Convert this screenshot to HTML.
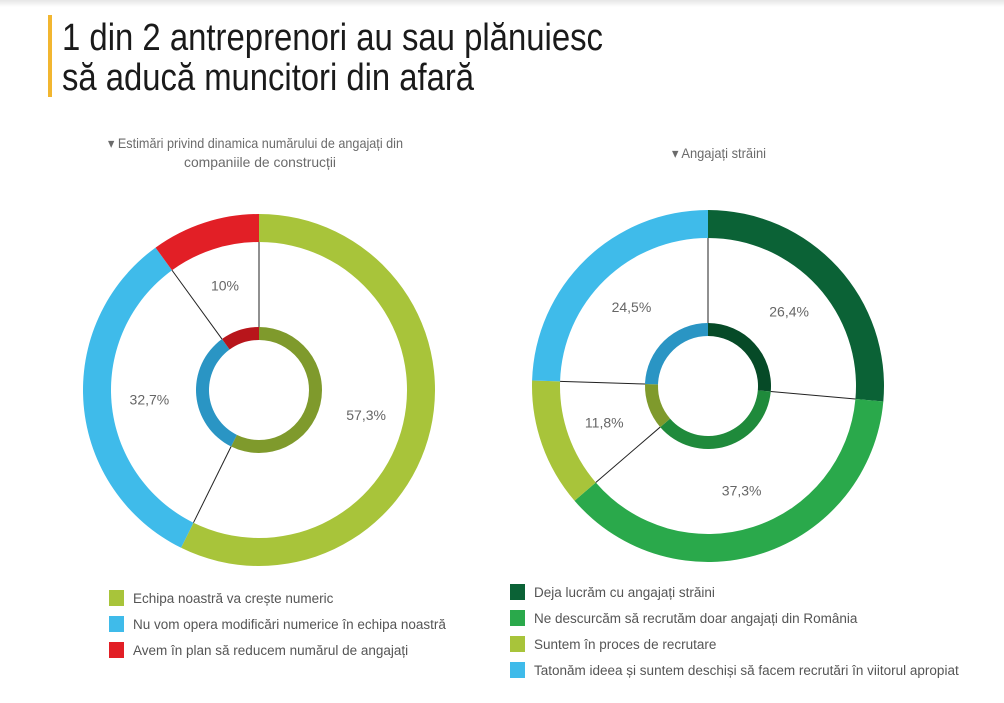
<!DOCTYPE html>
<html><head><meta charset="utf-8"><style>
html,body{margin:0;padding:0;background:#fff;}
svg{display:block;font-family:"Liberation Sans",sans-serif;}
</style></head><body>
<svg width="1004" height="703" viewBox="0 0 1004 703">
<defs>
<linearGradient id="topband" x1="0" y1="0" x2="0" y2="1"><stop offset="0" stop-color="#e6e6e6"/><stop offset="1" stop-color="#fff"/></linearGradient>
</defs>
<rect x="0" y="0" width="1004" height="7" fill="url(#topband)"/>
<rect x="48" y="15" width="4" height="82" fill="#f2b630"/>
<g fill="#1a1a1a" font-size="38">
<text x="62" y="50" textLength="541" lengthAdjust="spacingAndGlyphs">1 din 2 antreprenori au sau plănuiesc</text>
<text x="62" y="90" textLength="412" lengthAdjust="spacingAndGlyphs">să aducă muncitori din afară</text>
</g>
<g fill="#6b6b6b" font-size="14">
<text x="108" y="148" textLength="295" lengthAdjust="spacingAndGlyphs">▾ Estimări privind dinamica numărului de angajați din</text>
<text x="184" y="167" textLength="152" lengthAdjust="spacingAndGlyphs">companiile de construcții</text>
<text x="672" y="158" textLength="94" lengthAdjust="spacingAndGlyphs">▾ Angajați străini</text>
</g>
<g id="charts"></g>
<g id="legends"></g>
</svg>
<script>
const leftCategories = ["Echipa noastră va crește numeric","Nu vom opera modificări numerice în echipa noastră","Avem în plan să reducem numărul de angajați"];
const leftValues = [57.3, 32.7, 10];
const leftLabels = ["57,3%","32,7%","10%"];
const rightCategories = ["Deja lucrăm cu angajați străini","Ne descurcăm să recrutăm doar angajați din România","Suntem în proces de recrutare","Tatonăm ideea și suntem deschiși să facem recrutări în viitorul apropiat"];
const rightValues = [26.4, 37.3, 11.8, 24.5];
const rightLabels = ["26,4%","37,3%","11,8%","24,5%"];

const NS = "http://www.w3.org/2000/svg";
const leftColors = ["#a8c43a","#3fbbea","#e21f26"];
const leftInner = ["#7f9a2c","#2a95c4","#b8151b"];
const rightColors = ["#0b6236","#2aa94b","#a8c43a","#3fbbea"];
const rightInner = ["#064a27","#1f8a3b","#7f9a2c","#2a95c4"];

function mk(tag, attrs, parent){const e=document.createElementNS(NS,tag);for(const k in attrs)e.setAttribute(k,attrs[k]);parent.appendChild(e);return e;}
function pt(cx,cy,r,a){const t=a*Math.PI/180;return [cx+r*Math.sin(t),cy-r*Math.cos(t)];}
function arcPath(cx,cy,r0,r1,a0,a1){
  const lg=(a1-a0)>180?1:0;
  const p1=pt(cx,cy,r1,a0),p2=pt(cx,cy,r1,a1),p3=pt(cx,cy,r0,a1),p4=pt(cx,cy,r0,a0);
  return `M${p1[0]},${p1[1]}A${r1},${r1} 0 ${lg} 1 ${p2[0]},${p2[1]}L${p3[0]},${p3[1]}A${r0},${r0} 0 ${lg} 0 ${p4[0]},${p4[1]}Z`;
}
function donut(name,cx,cy,values,labels,colors,inner){
  const g=document.getElementById('charts');
  const grp=mk('g',{},g);
  
  
  const total=values.reduce((a,b)=>a+b,0);
  let a=0;
  const bounds=[];
  values.forEach((v,i)=>{
    const a1=a+v/total*360;
    const outer=mk('path',{d:arcPath(cx,cy,148,176,a,a1),fill:colors[i]},grp);
    
    
    const inn=mk('path',{d:arcPath(cx,cy,50,63,a,a1),fill:inner[i]},grp);
    
    
    const m=pt(cx,cy,110,(a+a1)/2);
    const t=mk('text',{x:m[0],y:m[1]+5,'text-anchor':'middle','font-size':'14',fill:'#666'},grp);
    t.textContent=labels[i];
    
    
    bounds.push(a);
    a=a1;
  });
  bounds.forEach((b,i)=>{
    const p=pt(cx,cy,63,b),q=pt(cx,cy,148,b);
    const l=mk('line',{x1:p[0],y1:p[1],x2:q[0],y2:q[1],stroke:'#222','stroke-width':'1'},grp);
    
    
  });
}
donut('left-donut',259,390,leftValues,leftLabels,leftColors,leftInner);
donut('right-donut',708,386,rightValues,rightLabels,rightColors,rightInner);

function legend(name,x,y0,cats,colors){
  const g=mk('g',{},document.getElementById('legends'));
  
  
  cats.forEach((c,i)=>{
    const y=y0+i*26;
    const e=mk('g',{},g);
    
    
    mk('rect',{x:x,y:y-8,width:15,height:16,fill:colors[i]},e);
    const t=mk('text',{x:x+24,y:y+5,'font-size':'13.5',fill:'#555'},e);
    t.textContent=c;
  });
}
legend('left-legend',109,598,leftCategories,leftColors);
legend('right-legend',510,592,rightCategories,rightColors);
</script>
</body></html>
